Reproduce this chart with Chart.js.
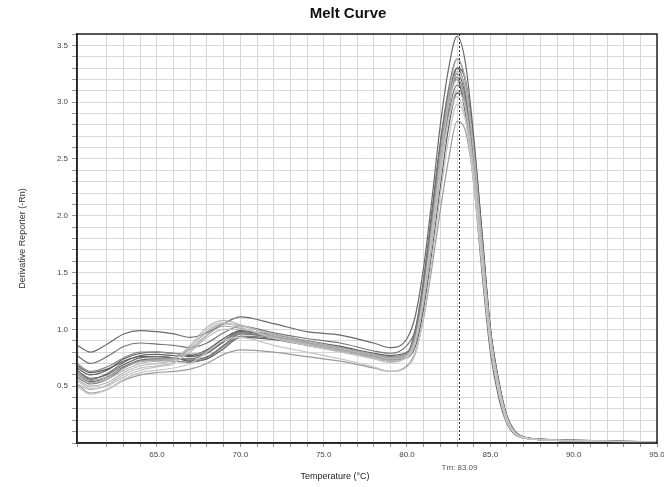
<!DOCTYPE html>
<html>
<head>
<meta charset="utf-8">
<script src="https://cdn.jsdelivr.net/npm/chart.js@4/dist/chart.umd.min.js"></script>
<style>
    html, body { margin: 0; padding: 0; background: #fff; }
</style>
</head>
<body>
<canvas id="meltChart" width="664" height="487"></canvas>
<script>
    const temps = [60.2, 61, 62, 63, 64, 65, 66, 67, 68, 69, 70, 72, 74, 76, 78, 79, 80,
                   80.5, 81, 81.5, 82, 82.5, 83, 83.5, 84, 84.5, 85, 85.5, 86, 86.5, 87, 88, 90, 92, 95];

    // derivative reporter (-Rn) per well
    const well01 = [0.86, 0.80, 0.87, 0.96, 0.99, 0.98, 0.96, 0.93, 0.97, 1.05, 1.11, 1.05, 0.98, 0.95, 0.88, 0.84, 0.92,
                    1.12, 1.55, 2.15, 2.80, 3.30, 3.58, 3.35, 2.70, 1.85, 1.00, 0.50, 0.20, 0.08, 0.05, 0.035, 0.025, 0.02, 0.01];
    const well02 = [0.77, 0.70, 0.76, 0.85, 0.88, 0.87, 0.86, 0.84, 0.88, 0.97, 1.03, 0.97, 0.92, 0.88, 0.81, 0.79, 0.86,
                    1.00, 1.42, 2.00, 2.62, 3.12, 3.38, 3.18, 2.55, 1.72, 0.95, 0.50, 0.21, 0.09, 0.055, 0.035, 0.025, 0.02, 0.01];
    const well03 = [0.66, 0.60, 0.64, 0.74, 0.79, 0.80, 0.79, 0.77, 0.82, 0.92, 0.99, 0.95, 0.90, 0.85, 0.79, 0.77, 0.80,
                    0.90, 1.25, 1.80, 2.40, 2.95, 3.30, 3.20, 2.65, 1.85, 1.02, 0.55, 0.23, 0.09, 0.05, 0.03, 0.02, 0.015, 0.005];
    const well04 = [0.62, 0.56, 0.61, 0.71, 0.77, 0.78, 0.77, 0.76, 0.80, 0.90, 0.98, 0.94, 0.89, 0.84, 0.78, 0.75, 0.78,
                    0.95, 1.35, 1.92, 2.52, 3.05, 3.30, 3.10, 2.50, 1.70, 0.93, 0.48, 0.20, 0.08, 0.05, 0.03, 0.02, 0.015, 0.005];
    const well05 = [0.64, 0.57, 0.60, 0.69, 0.75, 0.76, 0.75, 0.73, 0.76, 0.86, 0.96, 0.93, 0.88, 0.83, 0.77, 0.74, 0.77,
                    0.95, 1.35, 1.90, 2.50, 3.00, 3.25, 3.05, 2.45, 1.65, 0.90, 0.48, 0.20, 0.08, 0.05, 0.03, 0.02, 0.015, 0.005];
    const well06 = [0.60, 0.54, 0.58, 0.67, 0.73, 0.74, 0.74, 0.74, 0.79, 0.89, 0.97, 0.93, 0.88, 0.83, 0.77, 0.74, 0.79,
                    1.00, 1.45, 2.05, 2.65, 3.10, 3.20, 2.90, 2.30, 1.50, 0.80, 0.40, 0.17, 0.07, 0.045, 0.03, 0.02, 0.015, 0.005];
    const well07 = [0.58, 0.52, 0.56, 0.66, 0.72, 0.73, 0.72, 0.71, 0.75, 0.85, 0.94, 0.92, 0.87, 0.81, 0.75, 0.72, 0.76,
                    0.92, 1.30, 1.85, 2.42, 2.90, 3.15, 2.98, 2.42, 1.65, 0.92, 0.50, 0.21, 0.085, 0.05, 0.03, 0.02, 0.015, 0.005];
    const well08 = [0.68, 0.62, 0.65, 0.72, 0.76, 0.76, 0.75, 0.72, 0.74, 0.83, 0.93, 0.91, 0.86, 0.81, 0.76, 0.73, 0.75,
                    0.85, 1.18, 1.68, 2.25, 2.78, 3.08, 3.05, 2.55, 1.80, 1.00, 0.55, 0.24, 0.10, 0.055, 0.035, 0.02, 0.015, 0.005];
    const well09 = [0.60, 0.53, 0.56, 0.64, 0.70, 0.72, 0.74, 0.84, 0.98, 1.05, 1.03, 0.96, 0.90, 0.84, 0.78, 0.75, 0.78,
                    0.92, 1.32, 1.90, 2.52, 3.05, 3.38, 3.20, 2.60, 1.78, 0.98, 0.52, 0.22, 0.09, 0.05, 0.03, 0.02, 0.015, 0.005];
    const well10 = [0.56, 0.50, 0.53, 0.62, 0.68, 0.70, 0.73, 0.86, 1.02, 1.08, 1.04, 0.95, 0.89, 0.83, 0.77, 0.74, 0.77,
                    0.90, 1.28, 1.85, 2.45, 2.98, 3.27, 3.12, 2.55, 1.75, 0.97, 0.52, 0.22, 0.09, 0.05, 0.03, 0.02, 0.015, 0.005];
    const well11 = [0.62, 0.55, 0.58, 0.66, 0.72, 0.73, 0.75, 0.82, 0.95, 1.03, 1.01, 0.94, 0.88, 0.82, 0.76, 0.73, 0.77,
                    0.92, 1.32, 1.88, 2.48, 2.98, 3.20, 2.98, 2.38, 1.60, 0.88, 0.46, 0.19, 0.08, 0.045, 0.03, 0.02, 0.015, 0.005];
    const well12 = [0.52, 0.47, 0.51, 0.60, 0.66, 0.68, 0.71, 0.80, 0.93, 1.00, 1.00, 0.93, 0.87, 0.81, 0.75, 0.72, 0.75,
                    0.88, 1.25, 1.78, 2.35, 2.85, 3.10, 2.95, 2.42, 1.68, 0.94, 0.50, 0.21, 0.085, 0.05, 0.03, 0.02, 0.015, 0.005];
    const well13 = [0.55, 0.48, 0.50, 0.58, 0.64, 0.67, 0.70, 0.83, 1.00, 1.06, 1.02, 0.92, 0.86, 0.80, 0.74, 0.71, 0.76,
                    0.90, 1.30, 1.85, 2.40, 2.85, 3.05, 2.85, 2.28, 1.55, 0.85, 0.44, 0.18, 0.075, 0.045, 0.03, 0.02, 0.015, 0.005];
    const well14 = [0.52, 0.44, 0.47, 0.55, 0.60, 0.62, 0.63, 0.65, 0.70, 0.78, 0.82, 0.80, 0.76, 0.72, 0.66, 0.63, 0.68,
                    0.80, 1.10, 1.55, 2.05, 2.50, 2.83, 2.75, 2.30, 1.62, 0.92, 0.50, 0.22, 0.09, 0.05, 0.03, 0.02, 0.015, 0.005];
    const well15 = [0.50, 0.43, 0.47, 0.56, 0.62, 0.64, 0.66, 0.70, 0.80, 0.90, 0.93, 0.86, 0.80, 0.74, 0.67, 0.63, 0.67,
                    0.78, 1.12, 1.62, 2.18, 2.68, 2.98, 2.85, 2.32, 1.60, 0.90, 0.48, 0.20, 0.085, 0.05, 0.03, 0.02, 0.015, 0.005];
    const well16 = [0.70, 0.63, 0.67, 0.75, 0.80, 0.80, 0.79, 0.78, 0.81, 0.90, 0.97, 0.93, 0.88, 0.83, 0.78, 0.76, 0.80,
                    0.95, 1.35, 1.92, 2.50, 3.00, 3.22, 3.00, 2.40, 1.62, 0.88, 0.46, 0.19, 0.08, 0.045, 0.03, 0.02, 0.015, 0.005];

    const tmValue = 83.09;

    // light curves listed first so the darker ones sit on top
    const wells = [well15, well13, well12, well10, well09, well11, well14, well16,
                   well07, well02, well05, well06, well04, well08, well03, well01];
    const shades = ['#c6c6c6', '#c2c2c2', '#bdbdbd', '#b6b6b6', '#adadad', '#a4a4a4', '#9a9a9a', '#8c8c8c',
                    '#7e7e7e', '#767676', '#6e6e6e', '#686868', '#626262', '#5c5c5c', '#575757', '#6a6a6a'];

    const datasets = wells.map((vals, i) => ({
        data: temps.map((t, j) => ({ x: t, y: vals[j] })),
        borderColor: shades[i],
        borderWidth: 1.2,
        pointRadius: 0,
        fill: false,
        cubicInterpolationMode: 'monotone'
    }));

    const tickFont = { family: 'Arial, "Liberation Sans"', size: 8 };

    // dashed Tm marker, boxed plot area and the free text
    const meltDecor = {
        id: 'meltDecor',
        afterDatasetsDraw(chart) {
            const { ctx, chartArea: a, scales: { x } } = chart;
            const px = Math.round(x.getPixelForValue(tmValue)) + 0.5;
            ctx.save();
            ctx.strokeStyle = '#333';
            ctx.lineWidth = 1;
            ctx.setLineDash([2, 2]);
            ctx.beginPath();
            ctx.moveTo(px, a.top);
            ctx.lineTo(px, a.bottom);
            ctx.stroke();
            ctx.setLineDash([]);
            ctx.strokeStyle = '#222';
            ctx.lineWidth = 1.5;
            ctx.strokeRect(a.left, a.top, a.right - a.left, a.bottom - a.top);

            ctx.textAlign = 'center';
            ctx.textBaseline = 'middle';
            ctx.fillStyle = '#555';
            ctx.font = '8px Arial, "Liberation Sans"';
            ctx.fillText('Tm: ' + tmValue.toFixed(2), px, 468);
            ctx.fillStyle = '#222';
            ctx.font = '9px Arial, "Liberation Sans"';
            ctx.fillText('Temperature (°C)', 335, 477);
            ctx.fillStyle = '#111';
            ctx.font = 'bold 15px Arial, "Liberation Sans"';
            ctx.fillText('Melt Curve', 348, 14);
            ctx.restore();
        }
    };

    const ctx = document.getElementById('meltChart').getContext('2d');
    new Chart(ctx, {
        type: 'line',
        data: { datasets: datasets },
        options: {
            responsive: false,
            animation: false,
            layout: { padding: { top: 34, right: 7, left: 0, bottom: 0 } },
            plugins: {
                legend: { display: false },
                tooltip: { enabled: false }
            },
            scales: {
                x: {
                    type: 'linear',
                    min: 60.2,
                    max: 95,
                    grid: { color: '#d8d8d8', tickColor: '#999', tickLength: 4 },
                    border: { color: '#222', width: 1.5 },
                    ticks: {
                        stepSize: 1,
                        autoSkip: false,
                        maxRotation: 0,
                        padding: 3,
                        color: '#444',
                        font: tickFont,
                        callback: v => (Math.abs(v % 5) < 1e-6 ? v.toFixed(1) : '')
                    },
                    afterFit: s => { s.height = 44; s.paddingLeft = 0; s.paddingRight = 0; }
                },
                y: {
                    min: 0,
                    max: 3.6,
                    grid: { color: '#d8d8d8', tickColor: '#999', tickLength: 5 },
                    border: { color: '#222', width: 1.5 },
                    ticks: {
                        stepSize: 0.1,
                        autoSkip: false,
                        padding: 4,
                        color: '#444',
                        font: tickFont,
                        callback: v => {
                            const h = v * 2;
                            return Math.abs(h - Math.round(h)) < 1e-6 && v > 0.01 ? v.toFixed(1) : '';
                        }
                    },
                    title: {
                        display: true,
                        text: 'Derivative Reporter (-Rn)',
                        color: '#333',
                        font: { family: 'Arial, "Liberation Sans"', size: 9 },
                        padding: { top: 17, bottom: 0 }
                    },
                    afterFit: s => { s.width = 77; s.paddingTop = 0; s.paddingBottom = 0; }
                }
            }
        },
        plugins: [meltDecor]
    });
</script>
</body>
</html>
